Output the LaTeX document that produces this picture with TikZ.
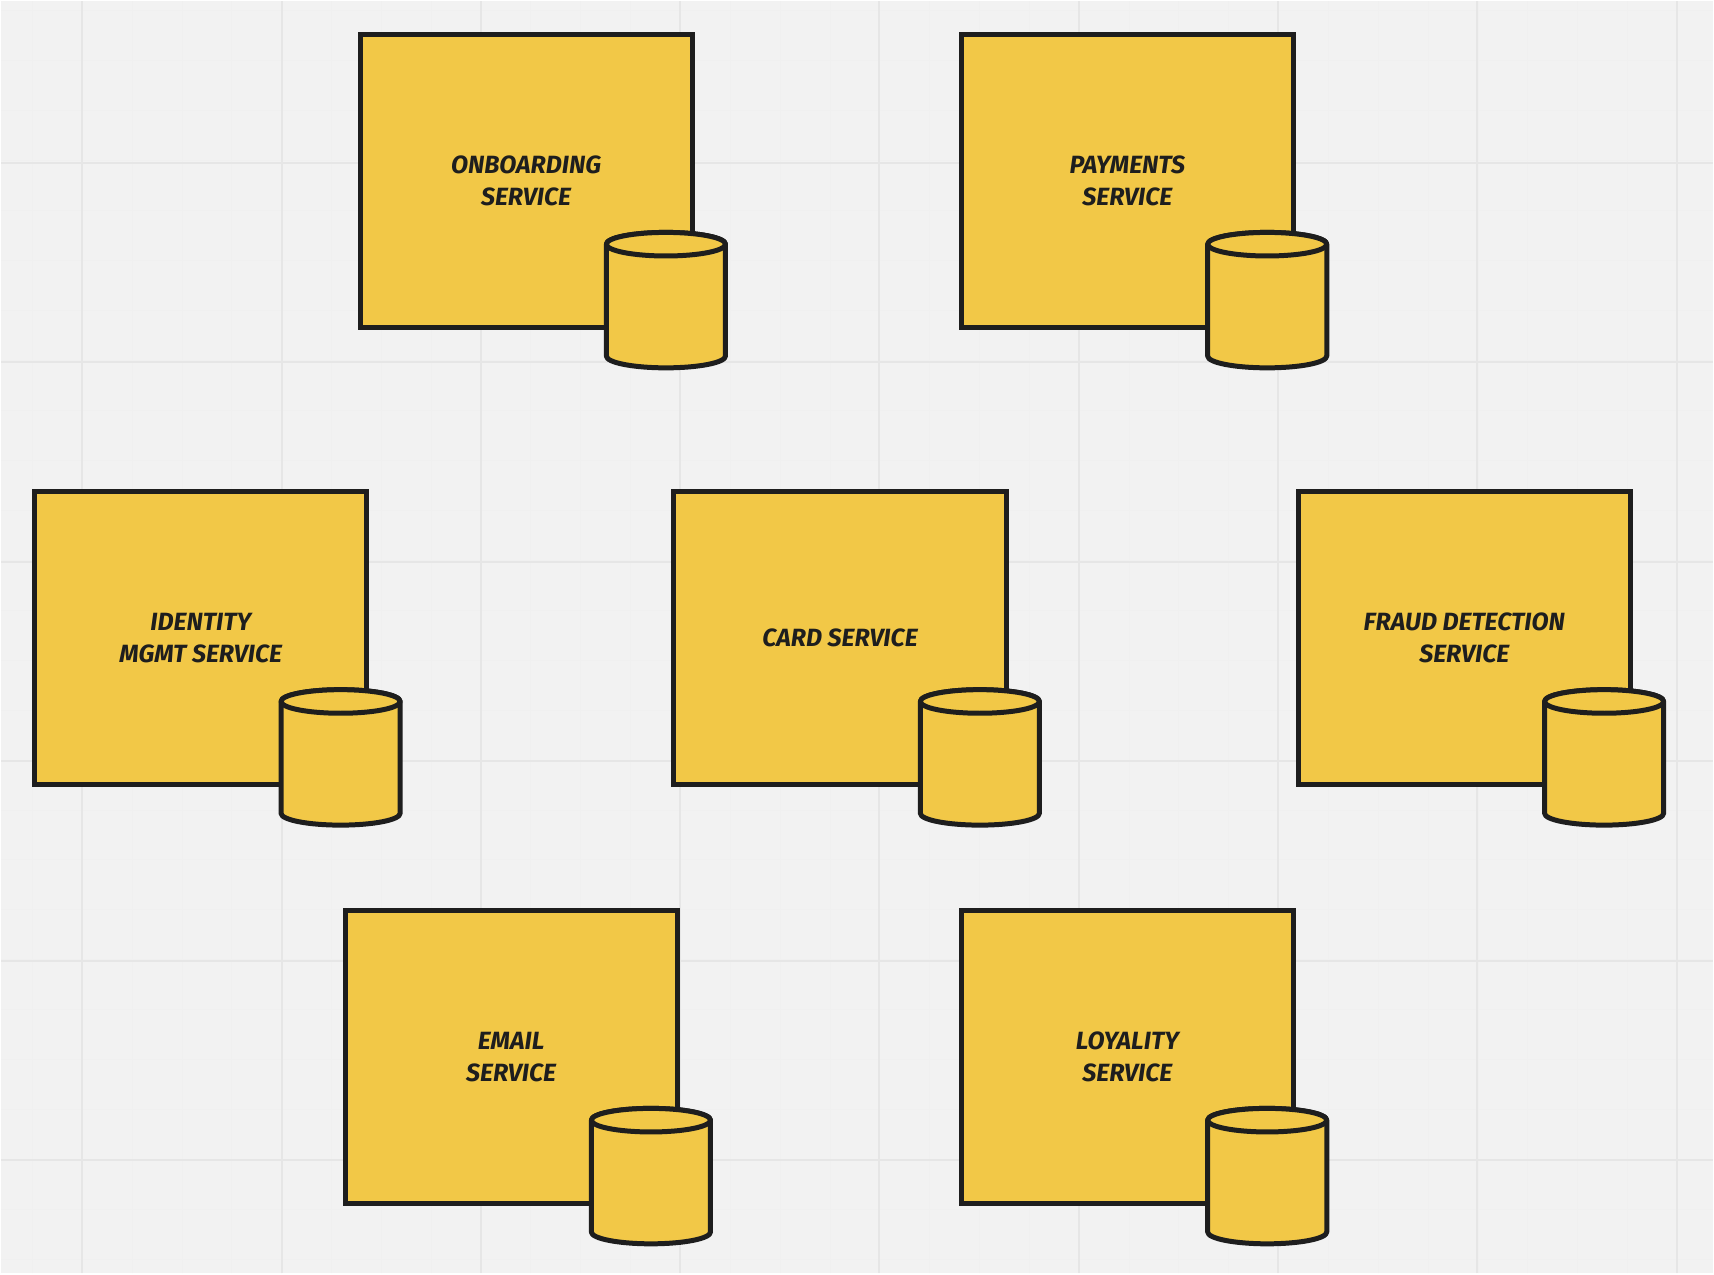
\documentclass[tikz,border=0pt]{standalone}
\usepackage{fontspec}
\setmainfont{Fira Sans}
\definecolor{svcyellow}{HTML}{F2C847}
\definecolor{svcdark}{HTML}{1E1E1E}
\definecolor{gridbg}{HTML}{F2F2F2}
\definecolor{gridmajor}{HTML}{E6E6E6}
\definecolor{gridminor}{HTML}{F0F0F0}
\usetikzlibrary{positioning}

\begin{document}
\begin{tikzpicture}[
  svc/.style={draw=svcdark, fill=svcyellow, line width=0.05cm,
              minimum width=3.325cm, minimum height=2.935cm, inner sep=0pt,
              align=center, font=\fontsize{7.1}{9.1}\selectfont\bfseries\itshape,
              text=svcdark},
  store/.style={minimum width=1.192cm, minimum height=1.355cm, inner sep=0pt, outer sep=0pt},
  storeline/.style={draw=svcdark, fill=svcyellow, line width=0.05cm, line join=round}
]
  \fill[gridbg] (0,0) rectangle (17.14,12.74);
  \foreach \gx in {0.316,0.815,...,17.14} \draw[gridminor, line width=0.01cm] (\gx,0) -- (\gx,12.74);
  \foreach \gy in {0.14,0.64,...,12.74} \draw[gridminor, line width=0.01cm] (0,\gy) -- (17.14,\gy);
  \foreach \gx in {0.815,2.81,4.805,6.80,8.795,10.79,12.785,14.78,16.775}
    \draw[gridmajor, line width=0.02cm] (\gx,0) -- (\gx,12.74);
  \foreach \gy in {1.14,3.13,5.13,7.125,9.123,11.12}
    \draw[gridmajor, line width=0.02cm] (0,\gy) -- (17.14,\gy);

  \node[svc] (onboarding) at (5.257,10.94)  {ONBOARDING\\SERVICE};
  \node[svc] (payments)   at (11.277,10.94) {PAYMENTS\\SERVICE};
  \node[svc] (identity)   at (2.00,6.362)   {IDENTITY\\MGMT SERVICE};
  \node[svc] (card)       at (8.40,6.362)   {CARD SERVICE};
  \node[svc] (fraud)      at (14.65,6.362)  {FRAUD DETECTION\\SERVICE};
  \node[svc] (email)      at (5.107,2.17)   {EMAIL\\SERVICE};
  \node[svc] (loyality)   at (11.277,2.17)  {LOYALITY\\SERVICE};

  \foreach \name/\cx/\cy in {onboardingdb/6.657/9.745, paymentsdb/12.677/9.745,
      identitydb/3.40/5.167, carddb/9.80/5.167, frauddb/16.05/5.167,
      emaildb/6.507/0.975, loyalitydb/12.677/0.975} {
    \node[store] (\name) at (\cx,\cy) {};
    \draw[storeline] ([yshift=0.56cm]\name.west) -- ([yshift=-0.56cm]\name.west)
      arc[start angle=180, end angle=360, x radius=0.596cm, y radius=0.118cm]
      -- ([yshift=0.56cm]\name.east)
      arc[start angle=0, end angle=180, x radius=0.596cm, y radius=0.118cm] -- cycle;
    \draw[storeline] ([yshift=0.56cm]\name.center) ellipse[x radius=0.596cm, y radius=0.118cm];
  }
\end{tikzpicture}
\end{document}
